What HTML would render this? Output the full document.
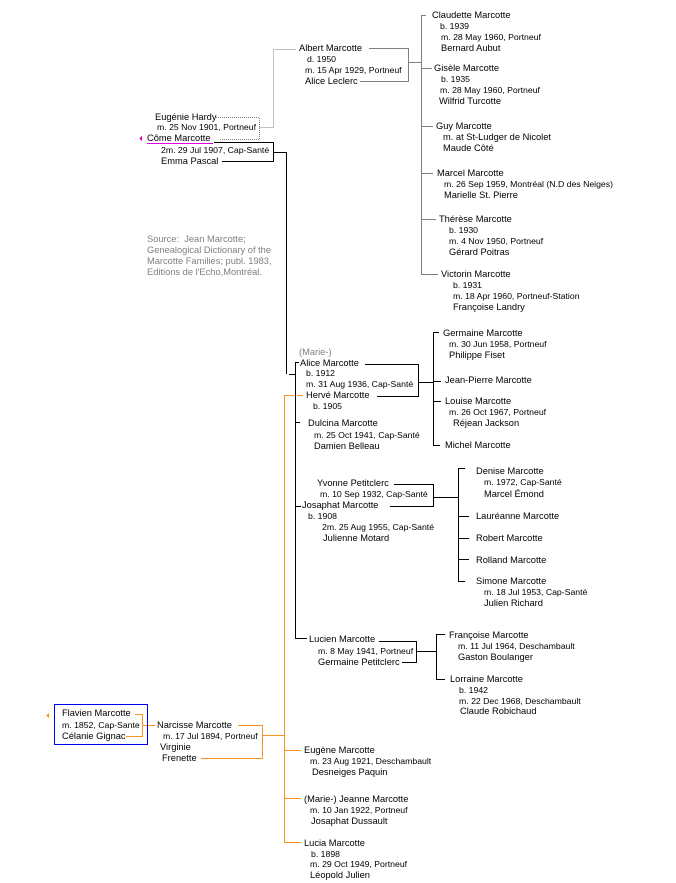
<!DOCTYPE html>
<html><head><meta charset="utf-8">
<style>
html,body{margin:0;padding:0;background:#fff;}
#c{position:relative;width:676px;height:883px;overflow:hidden;background:#fff;}
svg{position:absolute;left:0;top:0;}
.t{position:absolute;font-family:"Liberation Sans",Arial,sans-serif;font-size:9.3px;line-height:11px;height:11px;white-space:nowrap;color:#000;}
.d{font-size:8.7px;}
.g{color:#808080;}
</style></head><body>
<div id="c">
<svg width="676" height="883" viewBox="0 0 676 883" shape-rendering="crispEdges">
<g stroke="#808080" stroke-width="1" fill="none">
  <g stroke-dasharray="1,1">
    <path d="M216 117.5H259.5V139.5H220"/>
    <path d="M259.5 127.5H273.5V49.5H296"/>
  </g>
  <path d="M369 48.5H408.5V81.5H360"/>
  <path d="M408.5 62.5H421"/>
  <path d="M426 15.5H421.5V274.5H438"/>
  <path d="M421.5 68.5H432M421.5 126.5H433M421.5 173.5H433M421.5 219.5H436"/>
</g>
<g stroke="#000" stroke-width="1" fill="none">
  <path d="M214 142.5H273.5V161.5H222"/>
  <path d="M273.5 152.5H286.5V374"/>
  <path d="M289 374.5H295"/>
  <path d="M299 362.5H295.5V638.5H307"/>
  <path d="M295.5 422.5H300M295.5 506.5H301"/>
  <path d="M365 364.5H418.5V396.5H377"/>
  <path d="M418.5 382.5H433"/>
  <path d="M439 332.5H433.5V445.5H440"/>
  <path d="M433.5 381.5H441M433.5 401.5H441"/>
  <path d="M394 484.5H433.5V506.5H390"/>
  <path d="M433.5 497.5H458"/>
  <path d="M465 468.5H458.5V581.5H465"/>
  <path d="M458.5 516.5H469M458.5 538.5H469M458.5 559.5H469"/>
  <path d="M379 641.5H416.5V662.5H402"/>
  <path d="M416.5 651.5H436"/>
  <path d="M445 634.5H436.5V679.5H445"/>
</g>
<g stroke="#f7941d" stroke-width="1" fill="none">
  <path d="M294 395.5H284.5V842.5H301"/>
  <path d="M297 395.5H303"/>
  <path d="M284.5 750.5H301M284.5 798.5H301"/>
  <path d="M262.5 735.5H284.5"/>
  <path d="M238 725.5H262.5V758.5H201"/>
  <path d="M135 714.5H142.5V736.5H126"/>
  <path d="M142.5 725.5H155"/>
</g>
<rect x="54.5" y="704.5" width="93" height="40" fill="none" stroke="#0000ee" stroke-width="1"/>
<polygon points="139,138.5 142,135.5 142,141.5" fill="#e000e0"/>
<polygon points="46,715.5 49,712.5 49,718.5" fill="#f7941d"/>
<path d="M147 143.5H213" stroke="#e000e0" stroke-width="1"/>
</svg>

<div class="t" style="left:299px;top:42.5px">Albert Marcotte</div>
<div class="t d" style="left:307px;top:53.5px">d. 1950</div>
<div class="t d" style="left:305px;top:64.5px">m. 15 Apr 1929, Portneuf</div>
<div class="t" style="left:305px;top:75.5px">Alice Leclerc</div>
<div class="t" style="left:155px;top:111.5px">Eugénie Hardy</div>
<div class="t d" style="left:157px;top:122px">m. 25 Nov 1901, Portneuf</div>
<div class="t" style="left:147px;top:133px">Côme Marcotte</div>
<div class="t d" style="left:161px;top:144.5px">2m. 29 Jul 1907, Cap-Santé</div>
<div class="t" style="left:161px;top:155.5px">Emma Pascal</div>

<div class="t" style="left:432px;top:10px">Claudette Marcotte</div>
<div class="t d" style="left:440px;top:20.5px">b. 1939</div>
<div class="t d" style="left:441px;top:31.5px">m. 28 May 1960, Portneuf</div>
<div class="t" style="left:441px;top:42.5px">Bernard Aubut</div>
<div class="t" style="left:434px;top:62.5px">Gisèle Marcotte</div>
<div class="t d" style="left:441px;top:73.5px">b. 1935</div>
<div class="t d" style="left:440px;top:84.5px">m. 28 May 1960, Portneuf</div>
<div class="t" style="left:439px;top:95.5px">Wilfrid Turcotte</div>
<div class="t" style="left:436px;top:120.5px">Guy Marcotte</div>
<div class="t" style="left:443px;top:131.5px">m. at St-Ludger de Nicolet</div>
<div class="t" style="left:443px;top:142.5px">Maude Côté</div>
<div class="t" style="left:437px;top:167.5px">Marcel Marcotte</div>
<div class="t d" style="left:444px;top:178.5px">m. 26 Sep 1959, Montréal (N.D des Neiges)</div>
<div class="t" style="left:444px;top:189.5px">Marielle St. Pierre</div>
<div class="t" style="left:439px;top:213.5px">Thérèse Marcotte</div>
<div class="t d" style="left:449px;top:224.5px">b. 1930</div>
<div class="t d" style="left:449px;top:235.5px">m. 4 Nov 1950, Portneuf</div>
<div class="t" style="left:449px;top:246.5px">Gérard Poitras</div>
<div class="t" style="left:441px;top:268.5px">Victorin Marcotte</div>
<div class="t d" style="left:453px;top:279.5px">b. 1931</div>
<div class="t d" style="left:453px;top:290.5px">m. 18 Apr 1960, Portneuf-Station</div>
<div class="t" style="left:453px;top:301.5px">Françoise Landry</div>

<div class="t g" style="left:147px;top:234px">Source:&nbsp; Jean Marcotte;</div>
<div class="t g" style="left:147px;top:245px">Genealogical Dictionary of the</div>
<div class="t g" style="left:147px;top:256px">Marcotte Families; publ. 1983,</div>
<div class="t g" style="left:147px;top:267px">Editions de l'Echo,Montréal.</div>

<div class="t g" style="left:299px;top:346.5px">(Marie-)</div>
<div class="t" style="left:300px;top:357.5px">Alice Marcotte</div>
<div class="t d" style="left:306px;top:368px">b. 1912</div>
<div class="t d" style="left:306px;top:378.5px">m. 31 Aug 1936, Cap-Santé</div>
<div class="t" style="left:306px;top:389.5px">Hervé Marcotte</div>
<div class="t d" style="left:313px;top:400.5px">b. 1905</div>
<div class="t" style="left:308px;top:417.5px">Dulcina Marcotte</div>
<div class="t d" style="left:314px;top:429.5px">m. 25 Oct 1941, Cap-Santé</div>
<div class="t" style="left:314px;top:440.5px">Damien Belleau</div>

<div class="t" style="left:443px;top:327.5px">Germaine Marcotte</div>
<div class="t d" style="left:449px;top:338.5px">m. 30 Jun 1958, Portneuf</div>
<div class="t" style="left:449px;top:349.5px">Philippe Fiset</div>
<div class="t" style="left:445px;top:375px">Jean-Pierre Marcotte</div>
<div class="t" style="left:445px;top:395.5px">Louise Marcotte</div>
<div class="t d" style="left:449px;top:406.5px">m. 26 Oct 1967, Portneuf</div>
<div class="t" style="left:453px;top:417.5px">Réjean Jackson</div>
<div class="t" style="left:445px;top:439.5px">Michel Marcotte</div>

<div class="t" style="left:317px;top:478px">Yvonne Petitclerc</div>
<div class="t d" style="left:320px;top:489px">m. 10 Sep 1932, Cap-Santé</div>
<div class="t" style="left:302px;top:500px">Josaphat Marcotte</div>
<div class="t d" style="left:308px;top:511px">b. 1908</div>
<div class="t d" style="left:322px;top:522px">2m. 25 Aug 1955, Cap-Santé</div>
<div class="t" style="left:323px;top:533px">Julienne Motard</div>
<div class="t" style="left:476px;top:465.5px">Denise Marcotte</div>
<div class="t d" style="left:484px;top:477px">m. 1972, Cap-Santé</div>
<div class="t" style="left:484px;top:488.5px">Marcel Émond</div>
<div class="t" style="left:476px;top:510.5px">Lauréanne Marcotte</div>
<div class="t" style="left:476px;top:532.5px">Robert Marcotte</div>
<div class="t" style="left:476px;top:554.5px">Rolland Marcotte</div>
<div class="t" style="left:476px;top:576px">Simone Marcotte</div>
<div class="t d" style="left:484px;top:587px">m. 18 Jul 1953, Cap-Santé</div>
<div class="t" style="left:484px;top:598px">Julien Richard</div>

<div class="t" style="left:309px;top:634px">Lucien Marcotte</div>
<div class="t d" style="left:318px;top:645.5px">m. 8 May 1941, Portneuf</div>
<div class="t" style="left:318px;top:656.5px">Germaine Petitclerc</div>
<div class="t" style="left:449px;top:629.5px">Françoise Marcotte</div>
<div class="t d" style="left:458px;top:640.5px">m. 11 Jul 1964, Deschambault</div>
<div class="t" style="left:458px;top:651.5px">Gaston Boulanger</div>
<div class="t" style="left:450px;top:673.5px">Lorraine Marcotte</div>
<div class="t d" style="left:459px;top:684.5px">b. 1942</div>
<div class="t d" style="left:459px;top:695.5px">m. 22 Dec 1968, Deschambault</div>
<div class="t" style="left:460px;top:706px">Claude Robichaud</div>

<div class="t" style="left:62px;top:708px">Flavien Marcotte</div>
<div class="t d" style="left:62px;top:719.5px">m. 1852, Cap-Sante</div>
<div class="t" style="left:62px;top:730.5px">Célanie Gignac</div>
<div class="t" style="left:157px;top:719.5px">Narcisse Marcotte</div>
<div class="t d" style="left:163px;top:730.5px">m. 17 Jul 1894, Portneuf</div>
<div class="t" style="left:160px;top:741.5px">Virginie</div>
<div class="t" style="left:162px;top:752.5px">Frenette</div>

<div class="t" style="left:304px;top:744.5px">Eugène Marcotte</div>
<div class="t d" style="left:310px;top:755.5px">m. 23 Aug 1921, Deschambault</div>
<div class="t" style="left:312px;top:766.5px">Desneiges Paquin</div>
<div class="t" style="left:304px;top:793.5px">(Marie-) Jeanne Marcotte</div>
<div class="t d" style="left:310px;top:805px">m. 10 Jan 1922, Portneuf</div>
<div class="t" style="left:311px;top:816px">Josaphat Dussault</div>
<div class="t" style="left:304px;top:837.5px">Lucia Marcotte</div>
<div class="t d" style="left:311px;top:848.5px">b. 1898</div>
<div class="t d" style="left:310px;top:859px">m. 29 Oct 1949, Portneuf</div>
<div class="t" style="left:310px;top:870px">Léopold Julien</div>
</div>
</body></html>
